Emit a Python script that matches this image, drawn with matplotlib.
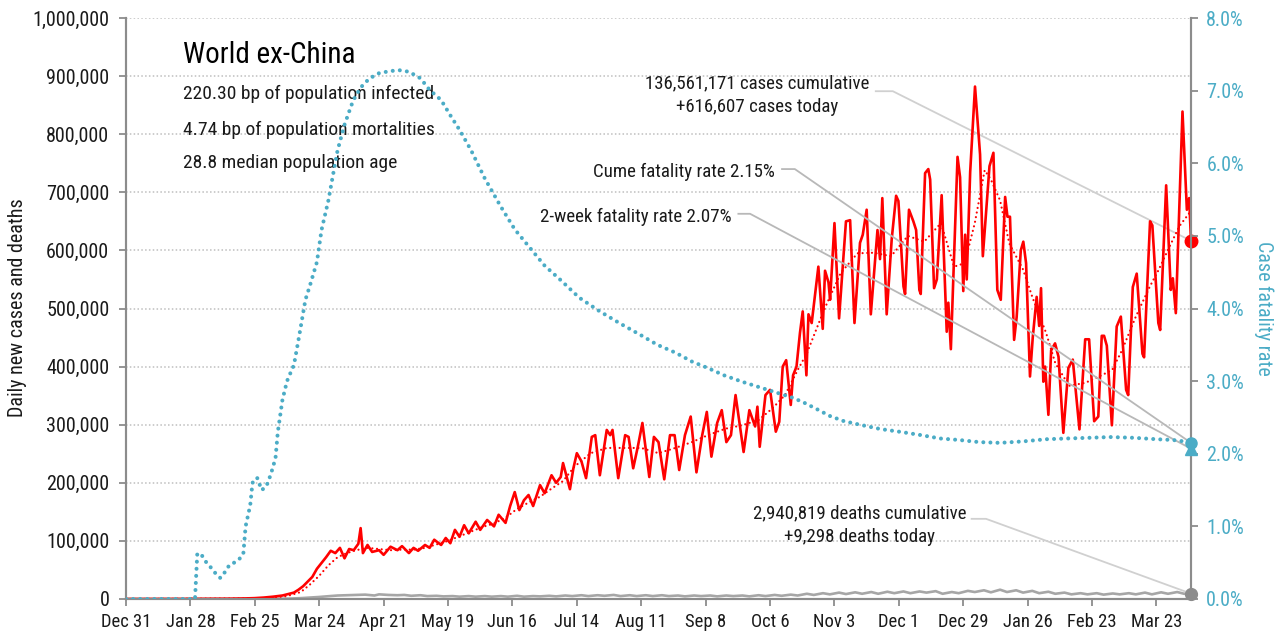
import matplotlib
matplotlib.use("Agg")
import matplotlib.pyplot as plt
from matplotlib import font_manager as fm
from matplotlib.ticker import FuncFormatter, MultipleLocator

# ---------------- data ----------------
# x = days since Dec 31 (2019)
tick_days = [0, 28, 56, 84, 112, 140, 168, 196, 224, 252, 280, 308, 336, 364, 392, 420, 448]
tick_labels = ["Dec 31", "Jan 28", "Feb 25", "Mar 24", "Apr 21", "May 19", "Jun 16", "Jul 14",
               "Aug 11", "Sep 8", "Oct 6", "Nov 3", "Dec 1", "Dec 29", "Jan 26", "Feb 23", "Mar 23"]
last_day = 463

# daily new cases (thousands)
case_days = [0, 25, 45, 52, 56, 60, 64, 68, 71, 73, 75, 77, 79, 81, 83, 85, 87, 89, 91, 93, 95, 97, 99,
             101, 102, 103, 105, 107, 110, 112, 115, 118, 120, 123, 125, 127, 130, 132, 134, 137, 139,
             141, 143, 145, 147, 149, 152, 154, 157, 160, 162, 165, 167, 169, 171, 173, 175, 177, 180,
             182, 185, 187, 189, 190, 193, 194.5, 196, 198, 200, 202.5, 204, 206, 209, 210.5, 211.5,
             214, 217, 218.5, 220.5, 222.5, 224.5, 227.5, 229.5, 231.5, 234, 236.5, 238.5, 240.5, 243,
             245.5, 248, 250.5, 252.5, 254.5, 257, 259, 261, 263, 265, 268.5, 271, 273.5, 274.5, 275.5,
             278, 280, 282.5, 284, 285.5, 287, 289, 290, 291.5, 293, 294.2, 295.8, 296.7, 298.1, 301,
             302.9, 303.9, 305.4, 306.1, 308, 310, 313, 314.8, 316.7, 319.1, 320.3, 322, 323.8, 326.7,
             327.8, 328.8, 330.7, 332.9, 334.8, 335.8, 338, 338.7, 340.4, 342.3, 343.5, 344.9, 345.5,
             347.4, 348.8, 349.6, 351.3, 352.5, 354.6, 356.8, 357.5, 358.6, 361.5, 362.6, 364, 364.8,
             365.5, 367, 369.1, 371.3, 372.5, 375.4, 377.1, 378.8, 380.3, 382.2, 383.2, 384.3, 386.1,
             387.2, 389, 390.1, 391.3, 393, 394.2, 395.9, 397, 397.8, 398.8, 399.6, 401, 402.2, 403.9,
             405.4, 407.5, 409.7, 411.6, 414.5, 417, 418.7, 420.9, 422.7, 424.2, 425.2, 426.4, 428.6,
             430.7, 432.5, 434.8, 435.7, 437.7, 439.4, 441.9, 442.6, 445.2, 446.2, 448.8, 449.6, 452.2,
             454.2, 455.1, 456.4, 459.3, 461.2, 462.2, 463]
case_vals = [0, 0.1, 0.5, 1, 1.5, 2.5, 4, 6, 9, 11, 16, 22, 30, 38, 52, 62, 72, 83, 79, 88, 70, 86, 84,
             95, 122, 79, 93, 81, 84, 76, 90, 84, 91, 79, 88, 83, 93, 88, 102, 93, 105,
             96, 119, 107, 127, 113, 133, 119, 136, 125, 145, 131, 160, 184, 153, 170, 179, 160, 196,
             182, 213, 200, 210, 234, 189, 225, 251, 237, 208, 279, 282, 213, 291, 282, 291,
             208, 282, 279, 225, 262, 303, 210, 279, 270, 206, 282, 282, 222, 282,
             314, 218, 282, 322, 245, 303, 325, 270, 282, 351, 253, 325, 297, 331, 262,
             351, 360, 288, 305, 400, 411, 334, 385, 400, 458, 495, 385, 490, 475, 572,
             465, 565, 545, 515, 647, 483, 650, 652, 475, 613, 627, 670, 490, 635,
             585, 690, 490, 620, 694, 685, 538, 525, 670, 650, 635, 532, 525,
             733, 740, 722, 535, 550, 695, 460, 510, 430, 761, 726, 530, 627,
             550, 735, 882, 765, 590, 745, 768, 532, 515, 692, 658, 658, 446,
             485, 600, 615, 578, 383, 450, 520, 470, 535, 374, 400, 317, 428, 440,
             417, 286, 398, 412, 292, 447, 447, 306, 314, 453, 453, 436, 299,
             469, 486, 360, 351, 537, 560, 422, 416, 650, 643, 475, 463, 712,
             532, 552, 492, 839, 670, 690, 616.607]

# 7-day average of cases (thousands)
avg_days = [0, 56, 64, 70, 76, 80, 84, 88, 92, 96, 100, 105, 110, 115, 120, 125, 130, 135, 140, 145,
            150, 155, 160, 165, 170, 175, 180, 185, 190, 195, 202, 209, 217, 224, 231.5, 238.8, 246,
            253, 260.5, 267.8, 275, 281, 286.5, 292, 296, 303.5, 310.7, 318, 325, 332.6, 339.9, 347,
            354.3, 360, 364.6, 369, 373.3, 376, 380, 384, 390, 394, 400, 404, 410, 417, 423, 428.7,
            433, 439, 445, 449, 453, 458, 463]
avg_vals = [0, 1, 2.5, 5, 12, 25, 40, 58, 72, 79, 84, 88, 86, 84, 85, 85, 88, 94, 100, 108,
            116, 124, 130, 140, 155, 166, 176, 190, 203, 228, 251, 260, 260, 260, 251, 260, 270,
            282, 293, 299, 308, 328, 351, 394, 423, 498, 561, 595, 596, 590, 625, 615,
            647, 572, 578, 647, 738, 722, 686, 612, 567, 520, 458, 406, 367, 372, 383, 394,
            428, 486, 537, 567, 601, 642, 668]

# daily deaths (thousands)
death_days = [0, 50, 65, 72, 76, 80, 84, 88, 92, 96, 100, 104, 108, 110, 114, 118, 121, 124, 128, 131,
              135, 138, 142, 145, 149, 152, 156, 159, 163, 166, 170, 173, 177, 180, 184, 187, 191, 194,
              198, 201, 205, 208, 212, 215, 219, 222, 226, 229, 233, 236, 240, 243, 247, 250, 254, 257,
              261, 264, 268, 271, 275, 278, 282, 285, 289, 292, 296, 299, 303, 306, 310, 313, 317, 320,
              324, 327, 331, 334, 338, 341, 345, 348, 352, 355, 359, 362, 366, 369, 373, 376, 380, 383,
              387, 390, 394, 397, 401, 404, 408, 411, 415, 418, 422, 425, 429, 432, 436, 439, 443, 446,
              450, 453, 457, 460, 463]
death_vals = [0, 0.05, 0.3, 0.8, 1.5, 2.5, 3.5, 4.8, 6, 6.5, 7, 7.5, 6, 8, 7, 6.5, 7, 5.5, 6.5, 5,
              5.5, 4.5, 5, 4, 5, 4, 5, 4, 5, 4, 5.5, 4, 5, 4.5, 5.5, 4.5, 6, 5,
              6.5, 5, 6.5, 5.5, 7, 5, 6.5, 5, 6.5, 5, 6.5, 5, 6, 4.5, 6, 5, 6, 4.5,
              6, 5, 6, 4.5, 6.5, 5, 7, 5.5, 7.5, 6, 9, 7, 10, 8, 11, 8.5, 11.5, 9,
              12, 9, 12.5, 10, 13, 10, 13, 11, 13.5, 9, 12, 10, 14, 12, 15, 11.5, 16, 12,
              15, 11, 14, 10, 12.5, 9, 11, 8, 10, 8, 10, 7.5, 9.5, 8, 10, 8, 11, 8,
              11.5, 9, 12, 9, 9.298]

# case fatality rate (%)
cfr_days = [0, 30, 31, 33, 35, 37, 39, 41, 43, 45, 47, 49, 51, 52, 54, 55, 57, 59, 61, 63, 65, 66,
            68, 70, 72, 73, 75, 78, 80, 83, 85, 88, 90, 92, 95, 98, 100, 103, 106, 110, 115, 119,
            123, 128, 132, 137, 141, 145, 150, 156, 163, 169, 176, 182, 189, 197, 206, 215, 224,
            231, 239, 246, 253, 260, 268, 275, 282, 290, 295, 300, 306, 312,
            319, 328, 337, 345, 354, 362, 371, 380, 390, 400, 409, 419, 428, 438, 448, 455, 460, 463]
cfr_vals = [0, 0, 0.63, 0.6, 0.5, 0.43, 0.35, 0.29, 0.37, 0.47, 0.5, 0.54, 0.62, 1.0, 1.29, 1.6, 1.67,
            1.5, 1.55, 1.72, 1.94, 2.3, 2.74, 3.0, 3.15, 3.22, 3.57, 4.12, 4.32, 4.64, 5.08, 5.49, 5.84,
            6.18, 6.53, 6.80, 6.94, 7.08, 7.17, 7.24, 7.27, 7.28, 7.26, 7.17, 7.01, 6.87, 6.66, 6.46,
            6.18, 5.79, 5.40, 5.09, 4.82, 4.59, 4.39, 4.15, 3.96, 3.79, 3.63,
            3.5, 3.39, 3.27, 3.18, 3.08, 2.99, 2.92, 2.85, 2.77, 2.70, 2.62, 2.52, 2.45, 2.40, 2.34,
            2.30, 2.26, 2.21, 2.19, 2.16, 2.15, 2.17, 2.20, 2.21, 2.22, 2.23, 2.22, 2.20, 2.19, 2.17,
            2.16]

cume_cfr = 2.15
twoweek_cfr = 2.07

title = "World ex-China"
info_lines = ["220.30 bp of population infected",
              "4.74 bp of population mortalities",
              "28.8 median population age"]
cases_note = "136,561,171 cases cumulative\n+616,607 cases today"
cume_note = "Cume fatality rate 2.15%"
twoweek_note = "2-week fatality rate 2.07%"
deaths_note = "2,940,819 deaths cumulative\n+9,298 deaths today"

# ---------------- styling ----------------
installed = {f.name for f in fm.fontManager.ttflist}
FONT = "DejaVu Sans"
for cand in ["Roboto Condensed", "Liberation Sans Narrow", "Liberation Sans"]:
    if cand in installed:
        FONT = cand
        break
plt.rcParams["font.family"] = [FONT, "DejaVu Sans"]

RED = "#FF0000"
BLUE = "#4BACC6"
GRAY = "#A6A6A6"
SPINE = "#8C8C8C"
TXT = "#1A1A1A"

W, H = 1281, 639
fig = plt.figure(figsize=(W / 100, H / 100), dpi=100)
L, R, T, B = 126, 1191, 18, 599
ax = fig.add_axes([L / W, (H - B) / H, (R - L) / W, (B - T) / H])
ax2 = ax.twinx()

YMAX = 1000  # thousands
CMAX = 8.0

ax.set_xlim(0, last_day)
ax.set_ylim(0, YMAX)
ax2.set_ylim(0, CMAX)

# grid
ax.yaxis.set_major_locator(MultipleLocator(100))
ax.grid(axis="y", color="#BFBFBF", linestyle=(0, (1, 1.5)), linewidth=1.1)
ax.grid(axis="x", visible=False)
ax.set_axisbelow(True)

# lines
ax.plot(death_days, death_vals, color=GRAY, lw=1.9, solid_joinstyle="round", zorder=3)
ax.plot(avg_days, avg_vals, color=RED, lw=1.6, linestyle=(0, (0.01, 2.1)),
        dash_capstyle="round", zorder=4)
ax.plot(case_days, case_vals, color=RED, lw=1.9, solid_joinstyle="round", zorder=5)
ax2.plot(cfr_days, cfr_vals, color=BLUE, lw=2.9, linestyle=(0, (0.01, 1.75)),
         dash_capstyle="round", zorder=3)

# end markers
ax.plot([case_days[-1]], [case_vals[-1]], "o", color=RED, ms=9, zorder=6, clip_on=False)
ax.plot([death_days[-1]], [death_vals[-1]], "o", color="#8C8C8C", ms=8.5, zorder=6, clip_on=False)
ax2.plot([cfr_days[-1]], [cume_cfr], "o", color=BLUE, ms=8, zorder=6, clip_on=False)
ax2.plot([cfr_days[-1]], [twoweek_cfr], "^", color=BLUE, ms=9, zorder=6, clip_on=False)

# spines / ticks
for a in (ax, ax2):
    a.spines["top"].set_visible(False)
    for s in ("left", "right", "bottom"):
        a.spines[s].set_color(SPINE)
        a.spines[s].set_linewidth(1.5)
ax.set_xticks(tick_days)
ax.set_xticklabels(tick_labels)
ax.tick_params(axis="x", length=5, width=1.3, color=SPINE, pad=5, labelsize=13.4, labelcolor=TXT)
ax.tick_params(axis="y", length=5, width=1.3, color=SPINE, pad=7, labelsize=14.5, labelcolor=TXT)
ax.yaxis.set_major_formatter(FuncFormatter(lambda v, p: f"{int(round(v * 1000)):,}"))
ax2.yaxis.set_major_locator(MultipleLocator(1.0))
ax2.yaxis.set_major_formatter(FuncFormatter(lambda v, p: f"{v:.1f}%"))
ax2.tick_params(axis="y", length=5, width=1.3, color=SPINE, pad=6, labelsize=14.5, labelcolor=BLUE)

fig.text(17.5 / W, 1 - 308 / H, "Daily new cases and deaths", rotation=90, ha="center",
         va="center", fontsize=14.4, color=TXT)
fig.text(1264 / W, 1 - 308 / H, "Case fatality rate", rotation=270, ha="center",
         va="center", fontsize=14.4, color=BLUE)

# title block
ax.text(0.0535, 0.9226, title, transform=ax.transAxes, fontsize=21, color="black", va="baseline")
for fy, line in zip([0.8606, 0.7986, 0.7418], info_lines):
    ax.text(0.0535, fy, line, transform=ax.transAxes, fontsize=14, color=TXT, va="baseline")

# annotations
NOTE = 13.6
l1, l2 = cases_note.split("\n")
ax.text(0.5925, 0.8795, l1, transform=ax.transAxes, fontsize=NOTE, color=TXT, ha="center", va="baseline")
ax.text(0.5925, 0.8387, l2, transform=ax.transAxes, fontsize=NOTE, color=TXT, ha="center", va="baseline")
ax.text(0.6094, 0.7269, cume_note, transform=ax.transAxes, fontsize=NOTE, color=TXT, ha="right", va="baseline")
ax.text(0.5687, 0.6494, twoweek_note, transform=ax.transAxes, fontsize=NOTE, color=TXT, ha="right", va="baseline")
d1, d2 = deaths_note.split("\n")
ax.text(0.6892, 0.139, d1, transform=ax.transAxes, fontsize=NOTE, color=TXT, ha="center", va="baseline")
ax.text(0.6892, 0.098, d2, transform=ax.transAxes, fontsize=NOTE, color=TXT, ha="center", va="baseline")


def fx2day(f):
    return f * last_day


def connector(axis, f0, fy, f1, yend, ymax, color):
    y0 = fy * ymax
    axis.plot([fx2day(f0), fx2day(f1), case_days[-1]], [y0, y0, yend], color=color, lw=1.3,
              zorder=2, clip_on=False)


connector(ax, 0.704, 0.874, 0.720, case_vals[-1], YMAX, "#D0D0D0")
connector(ax2, 0.616, 0.740, 0.628, cume_cfr, CMAX, "#B8B8B8")
connector(ax2, 0.575, 0.663, 0.586, twoweek_cfr, CMAX, "#B8B8B8")
connector(ax, 0.794, 0.138, 0.8075, death_vals[-1], YMAX, "#D0D0D0")

fig.savefig("out.png", dpi=100)
